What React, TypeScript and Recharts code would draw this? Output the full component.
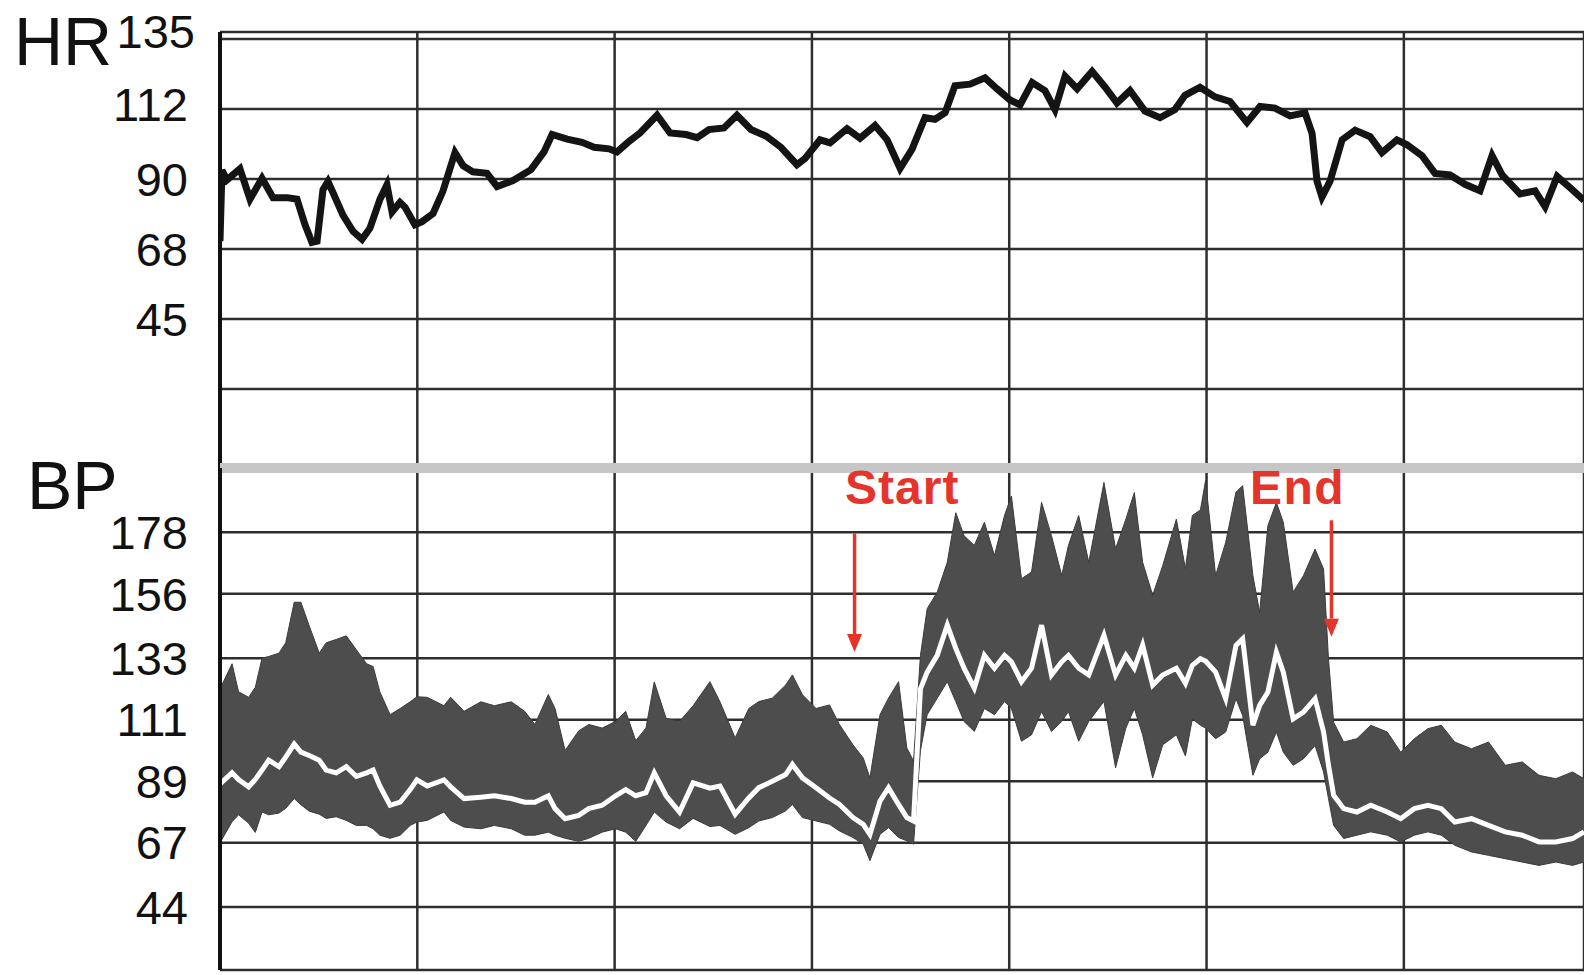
import React from 'react';
import { ComposedChart, Line, Area, XAxis, YAxis, CartesianGrid, ReferenceLine } from 'recharts';

// time in minutes, one grid cell = 10 min
const hrTime = [0, 0.1, 0.35, 1.01, 1.52, 2.13, 2.69, 3.4, 3.9, 4.31, 4.66, 4.92, 5.22, 5.47, 5.73, 6.23, 6.74, 7.2, 7.6, 8.11, 8.46, 8.72, 9.12, 9.38, 9.88, 10.24, 10.8, 11.3, 11.91, 12.32, 12.82, 13.53, 14.04, 14.85, 15.76, 16.42, 16.83, 17.59, 18.35, 18.96, 19.72, 20.12, 20.68, 21.29, 22.15, 22.81, 23.62, 24.18, 24.78, 25.54, 26.2, 26.91, 27.67, 28.43, 29.24, 29.65, 30.41, 30.92, 31.78, 32.44, 33.2, 33.81, 34.47, 35.07, 35.73, 36.24, 36.75, 37.25, 38.01, 38.77, 39.38, 40.04, 40.55, 41.16, 41.81, 42.32, 42.83, 43.44, 44.2, 44.86, 45.46, 46.12, 46.88, 47.64, 48.4, 48.91, 49.67, 50.43, 51.19, 52.05, 52.71, 53.47, 54.23, 54.99, 55.35, 55.6, 55.85, 56.26, 56.87, 57.53, 58.29, 58.89, 59.65, 60.16, 60.92, 61.58, 62.34, 63.1, 63.86, 64.47, 64.98, 65.89, 66.65, 67.16, 67.77, 68.42, 69.13];
const hrValues = [70, 92.8, 89.7, 93.3, 83.5, 90.2, 84, 84, 83.5, 75.3, 69.6, 70, 86.6, 89.2, 85.6, 78.4, 73.2, 70.6, 74.2, 83.5, 88.1, 79.4, 82.5, 80.9, 75.3, 76.3, 78.9, 86.1, 98.5, 94.3, 92.3, 91.8, 87.6, 89.5, 93, 98.7, 104.3, 102.8, 101.8, 100.2, 99.7, 98.7, 101.8, 104.8, 110.5, 104.8, 104.3, 103.3, 105.9, 106.4, 110.5, 105.9, 103.8, 100.2, 94.6, 96.6, 102.6, 101.6, 106.2, 103.1, 107.2, 102.6, 93.4, 99.5, 109.7, 109.2, 111.3, 120, 120.5, 122.5, 119, 115.4, 113.8, 121, 118.4, 112.3, 123, 119, 124.6, 119.5, 114.4, 118.4, 111.8, 109.7, 112.3, 116.9, 119.5, 116.4, 114.9, 108.2, 113.3, 112.8, 110.3, 111.3, 104.6, 89.3, 84.2, 89.3, 102.6, 105.7, 103.6, 98.5, 102.6, 101, 97.5, 91.8, 91.3, 88.3, 86.2, 97.5, 91.3, 85.2, 86.2, 81.1, 90.8, 87.2, 83.1];

const bpTime = [0, 0.61, 0.94, 1.45, 1.79, 2.13, 2.47, 2.99, 3.33, 3.76, 4.1, 4.52, 5.03, 5.38, 5.89, 6.4, 6.91, 7.43, 7.76, 8.1, 8.62, 9.13, 9.64, 9.98, 10.5, 11.35, 11.69, 12.37, 13.22, 13.91, 14.76, 15.44, 15.96, 16.64, 16.98, 17.49, 18.18, 18.69, 19.37, 20.05, 20.56, 21.07, 21.59, 22.01, 22.61, 23.29, 23.98, 24.83, 25.34, 26.11, 26.8, 27.31, 27.99, 28.67, 29.01, 29.52, 30.21, 30.89, 31.4, 32.08, 32.6, 32.94, 33.45, 33.88, 34.39, 34.81, 35.15, 35.5, 35.84, 36.35, 36.86, 37.29, 37.71, 38.23, 38.74, 39.25, 39.76, 40.11, 40.62, 41.13, 41.64, 42.14, 42.66, 43, 43.52, 44.03, 44.8, 45.39, 45.91, 46.34, 46.76, 47.27, 47.78, 48.47, 48.93, 49.28, 49.69, 49.95, 50.46, 50.97, 51.49, 51.83, 52.35, 52.69, 53.11, 53.54, 53.89, 54.39, 54.91, 55.5, 55.93, 56.18, 56.44, 56.95, 57.62, 58.32, 59.16, 59.84, 60.53, 61.22, 61.9, 62.58, 63.43, 64.29, 65.14, 66, 66.85, 67.7, 68.55, 69.13];
const bpSystolic = [122, 131, 121, 119, 122.6, 133, 133.6, 134.8, 138.5, 153, 153, 144.6, 134.8, 138.5, 139.7, 141, 136, 131, 130, 121, 112.8, 115, 117.4, 119.2, 119, 116, 119, 114, 117.4, 116, 117.4, 114, 109.3, 120, 115, 100, 107, 109.3, 108, 110.4, 114, 103.5, 108, 124.5, 111.5, 110.4, 116, 124.6, 117.4, 104.5, 115, 117.5, 118.7, 123.4, 127, 119.9, 115, 116.3, 109.2, 102, 97.3, 90.2, 112.8, 118.7, 124.6, 100.9, 96.2, 134, 150.7, 156.6, 167.3, 185, 176.8, 173.3, 181.6, 169.7, 184, 191, 161.4, 163.8, 188.7, 176.8, 162.6, 173.3, 184, 167.3, 195.8, 172.1, 182.7, 192.2, 167.3, 155.5, 166.1, 182.7, 165, 184, 186, 196.5, 162.5, 174.4, 192.3, 194.7, 162.5, 149.4, 180.4, 188.7, 181.6, 156.6, 162.5, 172, 164.9, 132.8, 110.1, 103, 104.2, 109, 106.6, 99.4, 104.2, 107.8, 109, 103, 100.6, 103, 94.7, 95.9, 91.1, 89.9, 92.3, 89.9];
const bpMean = [88, 92, 89.6, 87, 89.6, 93, 96.5, 94.2, 97.6, 102.3, 99.4, 98.2, 96.5, 93, 92, 94.2, 90.7, 92, 93, 87.3, 80.4, 81.5, 86, 89.5, 87.3, 89.5, 87, 82.8, 83.3, 83.8, 82.8, 81.5, 81.5, 83.8, 79.2, 75.6, 76.8, 79.2, 80.4, 83.8, 86, 83.8, 84.9, 92, 83.8, 78, 88.4, 86.5, 87.3, 77.2, 83, 86.7, 89, 91.4, 95, 90.2, 86.7, 83, 80.7, 76, 73.6, 70, 81.9, 86.7, 80.7, 76, 74.8, 122, 128, 134, 144.8, 136.5, 129.4, 122.3, 134, 129.4, 134, 131.7, 124.6, 129.4, 144.8, 127, 131.7, 134, 129.4, 127, 141.2, 127, 134, 129.4, 137.7, 123.4, 127, 129.4, 124, 130.4, 132.8, 132, 128, 118.5, 137.5, 139.9, 109, 116.1, 120.9, 135.1, 128, 111.3, 113.7, 118.5, 106.6, 94.7, 84, 79.2, 78, 80.4, 78, 75.6, 79.2, 80.4, 79.2, 74.4, 75.6, 73.2, 70.9, 69.7, 67.3, 67.3, 68.5, 70.9];
const bpDiastolic = [67, 74.5, 77, 74, 70.7, 78, 77, 77.6, 79.3, 82.8, 80.6, 78.3, 77.2, 75.7, 76.3, 75, 73.2, 73.2, 72, 69.7, 68.6, 69.7, 73.2, 74.4, 75, 78, 75, 72.6, 72, 73.2, 72, 69.7, 69.7, 70.8, 69.7, 68.6, 67.5, 68.6, 70.8, 72, 70.8, 67.5, 73.2, 78, 74.4, 72, 75.7, 72.8, 73.2, 70, 72.4, 74.8, 76, 78.4, 80.7, 76, 74.8, 73.6, 71.2, 68.9, 66.5, 60.6, 70, 72.4, 68.9, 67.7, 66.5, 100, 112.8, 118.7, 124.6, 117.5, 110.4, 106.8, 115, 112.8, 117.5, 115, 103.3, 105.6, 113.9, 106.8, 110.4, 113.9, 103.3, 110.4, 117.5, 93.8, 108, 115, 105.6, 90.2, 102, 105.6, 98, 111.3, 109, 108, 104.2, 106.6, 118.5, 112.5, 91.1, 97, 99.4, 106.6, 99.4, 94.7, 97, 101.8, 92.3, 82.8, 73.2, 68.5, 69.7, 70.9, 69.7, 67.3, 69.7, 70.9, 69.7, 66.1, 63.7, 62.5, 61.3, 60.1, 58.9, 60.1, 58.9, 60.1];

const timeTicks = [0, 10, 20, 30, 40, 50, 60];
// HR grid is evenly spaced every 22.5 bpm; labels are printed rounded
const hrTicks = [22.5, 45, 67.5, 90, 112.5, 135];
const hrTickLabels = ['', '45', '68', '90', '112', '135'];
const bpTicks = [21.5, 44, 67, 89, 111, 133, 156, 178];

const hrData = hrTime.map((t, i) => ({ t, hr: hrValues[i] }));
const bpData = bpTime.map((t, i) => ({ t, sys: bpSystolic[i], map: bpMean[i], dia: bpDiastolic[i] }));

const font = '"Liberation Sans", Arial, sans-serif';
const gridColor = '#2e2e2e';
const red = '#e5352b';

const tickStyle = { fontSize: 47, fill: '#111', fontFamily: font };

// the top HR labels sit a little above their lines in the print
const HrTick = (props: any) => {
  const { x, y, payload } = props;
  const v = payload.value;
  const label = hrTickLabels[hrTicks.indexOf(v)] ?? '';
  const dx = v === 135 ? 7 : 0;
  const dy = v === 135 ? -8 : v === 112.5 ? -5 : 0;
  return (
    <text x={x + dx} y={y + dy} dy="0.355em" textAnchor="end" fontSize={47} fill="#111" fontFamily={font}>
      {label}
    </text>
  );
};

const Arrow = (props: any) => {
  const { x1, y1, x2, y2 } = props;
  const head = 18;
  return (
    <g>
      <line x1={x1} y1={y1} x2={x2} y2={y2 - head} stroke={red} strokeWidth={3.5} />
      <polygon points={`${x2 - 7.5},${y2 - head} ${x2 + 7.5},${y2 - head} ${x2},${y2}`} fill={red} />
    </g>
  );
};

const HrChart = () => (
  <ComposedChart width={1584} height={480} data={hrData} margin={{ top: 32, right: 0, bottom: 12, left: 0 }}>
    <CartesianGrid stroke={gridColor} strokeWidth={2.5} />
    <XAxis dataKey="t" type="number" domain={[0, 69.13]} ticks={timeTicks} hide allowDataOverflow />
    <YAxis
      type="number"
      domain={[-2.9, 137.25]}
      ticks={hrTicks}
      width={220}
      tickSize={0}
      tickMargin={32}
      tickLine={false}
      axisLine={{ stroke: '#111', strokeWidth: 4 }}
      tick={<HrTick />}
      allowDataOverflow
    />
    <Line type="linear" dataKey="hr" stroke="#141414" strokeWidth={7} dot={false} isAnimationActive={false} />
  </ComposedChart>
);

const BpChart = () => (
  <ComposedChart width={1584} height={535} data={bpData} margin={{ top: 28, right: 0, bottom: 5, left: 0 }}>
    <CartesianGrid stroke={gridColor} strokeWidth={2.5} />
    <XAxis dataKey="t" type="number" domain={[0, 69.13]} ticks={timeTicks} hide allowDataOverflow />
    <YAxis
      type="number"
      domain={[21.5, 201]}
      ticks={bpTicks}
      width={220}
      tickSize={0}
      tickMargin={32}
      tickLine={false}
      axisLine={{ stroke: '#111', strokeWidth: 4 }}
      tick={tickStyle}
      tickFormatter={(v: number) => (v === 21.5 ? '' : String(v))}
      allowDataOverflow
    />
    <Area
      type="linear"
      dataKey={(d: any) => [d.dia, d.sys]}
      stroke="#3c3c3c"
      strokeWidth={1}
      fill="#4d4d4d"
      fillOpacity={1}
      isAnimationActive={false}
    />
    <Line type="linear" dataKey="map" stroke="#ffffff" strokeWidth={5} dot={false} isAnimationActive={false} />
    <ReferenceLine y={201} stroke="#c6c6c6" strokeWidth={10} />
    <ReferenceLine segment={[{ x: 32.16, y: 177.6 }, { x: 32.16, y: 135.2 }]} shape={Arrow} />
    <ReferenceLine segment={[{ x: 56.33, y: 182.3 }, { x: 56.33, y: 140.7 }]} shape={Arrow} />
  </ComposedChart>
);

const textBase: React.CSSProperties = { position: 'absolute', fontFamily: font, lineHeight: 1, whiteSpace: 'nowrap' };

export default function App() {
  return (
    <div style={{ position: 'absolute', left: 0, top: 0, width: 1584, height: 975, background: '#fff', overflow: 'hidden' }}>
      <div style={{ position: 'absolute', left: 0, top: 0 }}>
        <HrChart />
      </div>
      <div style={{ position: 'absolute', left: 0, top: 440 }}>
        <BpChart />
      </div>
      <div style={{ ...textBase, left: 14, top: 7, fontSize: 68, color: '#111' }}>HR</div>
      <div style={{ ...textBase, left: 27, top: 451, fontSize: 68, color: '#111' }}>BP</div>
      <div style={{ ...textBase, left: 845, top: 464, fontSize: 48, fontWeight: 700, letterSpacing: 1, color: red }}>Start</div>
      <div style={{ ...textBase, left: 1250, top: 464, fontSize: 48, fontWeight: 700, letterSpacing: 1.5, color: red }}>End</div>
    </div>
  );
}
